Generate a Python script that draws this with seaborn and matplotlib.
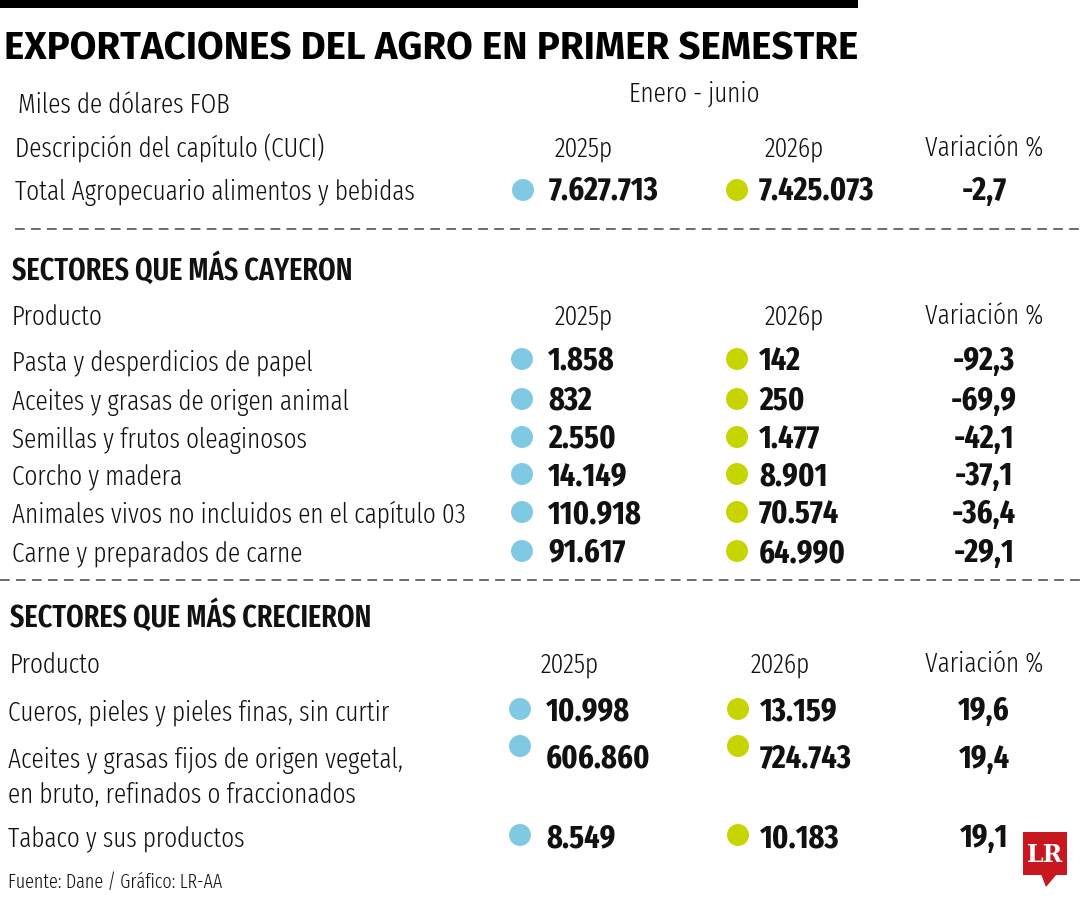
import matplotlib
matplotlib.use("Agg")
import matplotlib.pyplot as plt
import matplotlib.patches as mpatches
import pandas as pd
import seaborn as sns

# Data read from the graphic (miles de dólares FOB, enero - junio)
years = ["2025p", "2026p"]

total_label = "Total Agropecuario alimentos y bebidas"
total_2025 = "7.627.713"
total_2026 = "7.425.073"
total_var = "-2,7"

fall_products = ["Pasta y desperdicios de papel", "Aceites y grasas de origen animal",
                 "Semillas y frutos oleaginosos", "Corcho y madera",
                 "Animales vivos no incluidos en el capítulo 03", "Carne y preparados de carne"]
fall_2025 = ["1.858", "832", "2.550", "14.149", "110.918", "91.617"]
fall_2026 = ["142", "250", "1.477", "8.901", "70.574", "64.990"]
fall_var = ["-92,3", "-69,9", "-42,1", "-37,1", "-36,4", "-29,1"]

grow_products = ["Cueros, pieles y pieles finas, sin curtir",
                 "Aceites y grasas fijos de origen vegetal,\nen bruto, refinados o fraccionados",
                 "Tabaco y sus productos"]
grow_2025 = ["10.998", "606.860", "8.549"]
grow_2026 = ["13.159", "724.743", "10.183"]
grow_var = ["19,6", "19,4", "19,1"]

BLUE = "#7fcae2"
GREEN = "#c6d400"
INK = "#111111"

sns.set_theme(style="white")
BODY = ["Fira Sans Extra Condensed", "Roboto Condensed", "Liberation Sans Narrow", "DejaVu Sans"]
TITLE = ["Fira Sans", "Open Sans", "DejaVu Sans"]
plt.rcParams["font.family"] = BODY
plt.rcParams["lines.scale_dashes"] = False

fig = plt.figure(figsize=(10.8, 9), dpi=100)
ax = fig.add_axes([0, 0, 1, 1])
ax.set_xlim(0, 1080)
ax.set_ylim(900, 0)
ax.axis("off")
renderer = fig.canvas.get_renderer()


def fit_size(text, width, **kw):
    # font size that makes `text` span `width` pixels
    t = ax.text(0, 0, text, fontsize=20, **kw)
    w = t.get_window_extent(renderer).width
    t.remove()
    return 20 * width / w


body_kw = dict(family=BODY, fontweight=300, color=INK)
val_kw = dict(family=BODY, fontweight="bold", color=INK)
head_kw = dict(family=BODY, fontweight="semibold", color=INK)
title_kw = dict(family=TITLE, fontweight="bold", color="black")

body_fs = fit_size(total_label, 400, **body_kw)
val_fs = fit_size(total_2025, 110, **val_kw)
head_fs = fit_size("SECTORES QUE MÁS CAYERON", 341, **head_kw)
title_fs = fit_size("EXPORTACIONES DEL AGRO EN PRIMER SEMESTRE", 853, **title_kw)
foot_fs = fit_size("Fuente: Dane / Gráfico: LR-AA", 214, **body_kw)

# top bar and title
ax.add_patch(mpatches.Rectangle((0, 0), 858, 8, color="black", lw=0))
ax.text(4, 59, "EXPORTACIONES DEL AGRO EN PRIMER SEMESTRE", fontsize=title_fs,
        va="baseline", **title_kw)

ax.text(18, 113, "Miles de dólares FOB", fontsize=body_fs, va="baseline", **body_kw)
ax.text(694, 102, "Enero - junio", fontsize=body_fs, ha="center", va="baseline", **body_kw)


def header(y, first, x1, x2, left=15):
    ax.text(left, y, first, fontsize=body_fs, va="baseline", **body_kw)
    ax.text(x1, y, years[0], fontsize=body_fs, ha="center", va="baseline", **body_kw)
    ax.text(x2, y, years[1], fontsize=body_fs, ha="center", va="baseline", **body_kw)
    ax.text(984, y, "Variación %", fontsize=body_fs, ha="center", va="baseline", **body_kw)


def dashed(y, x0):
    ax.plot([x0, 1080], [y, y], color="#444444", lw=1.1, dashes=(7, 4.5))


dots = []


def rows(labels, v25, v26, var, baselines, dot_dy, dx1, dx2, left):
    for lab, a, b, v, yb in zip(labels, v25, v26, var, baselines):
        for k, line in enumerate(lab.split("\n")):
            ax.text(left, yb + 35 * k, line, fontsize=body_fs, va="baseline", **body_kw)
        ax.text(dx1 + 26, yb, a, fontsize=val_fs, va="baseline", **val_kw)
        ax.text(dx2 + 22, yb, b, fontsize=val_fs, va="baseline", **val_kw)
        ax.text(984, yb, v, fontsize=val_fs, ha="center", va="baseline", **val_kw)
        dots.append({"x": dx1, "y": yb + dot_dy, "serie": years[0]})
        dots.append({"x": dx2, "y": yb + dot_dy, "serie": years[1]})


# Total block
header(157, "Descripción del capítulo (CUCI)", 583.5, 794)
rows([total_label], [total_2025], [total_2026], [total_var], [200], -10, 523, 737, 15)
dashed(229, 15)

# Sectors that fell most
ax.text(12, 280, "SECTORES QUE MÁS CAYERON", fontsize=head_fs, va="baseline", **head_kw)
header(325, "Producto", 583.5, 794, left=12)
rows(fall_products, fall_2025, fall_2026, fall_var,
     [370, 410, 448, 485, 523, 562], -11, 522, 737, 12)
dashed(580, 0)

# Sectors that grew most
ax.text(10, 627, "SECTORES QUE MÁS CRECIERON", fontsize=head_fs, va="baseline", **head_kw)
header(673, "Producto", 570, 780, left=10)
grow_base = [720, 768, 847]
grow_dy = [-11, -22, -12]
for i in range(3):
    rows([grow_products[i]], [grow_2025[i]], [grow_2026[i]], [grow_var[i]],
         [grow_base[i]], grow_dy[i], 520, 738, 8)

# the coloured dots
dot_df = pd.DataFrame(dots)
sns.scatterplot(data=dot_df, x="x", y="y", hue="serie", palette={years[0]: BLUE, years[1]: GREEN},
                s=250, linewidth=0, legend=False, ax=ax)
ax.set_xlim(0, 1080)
ax.set_ylim(900, 0)
ax.axis("off")

# footer
ax.text(8, 888, "Fuente: Dane / Gráfico: LR-AA", fontsize=foot_fs, va="baseline", **body_kw)

# LR logo
red = "#c8171e"
ax.add_patch(mpatches.Rectangle((1023, 832), 44, 43, color=red, lw=0))
ax.add_patch(mpatches.Polygon([(1041, 874), (1057, 874), (1046, 887)], closed=True, color=red, lw=0))
ax.text(1045, 855, "LR", fontsize=17, family=["DejaVu Serif"], fontweight="bold",
        color="white", ha="center", va="center")

fig.savefig("out.png", dpi=100, facecolor="white")
